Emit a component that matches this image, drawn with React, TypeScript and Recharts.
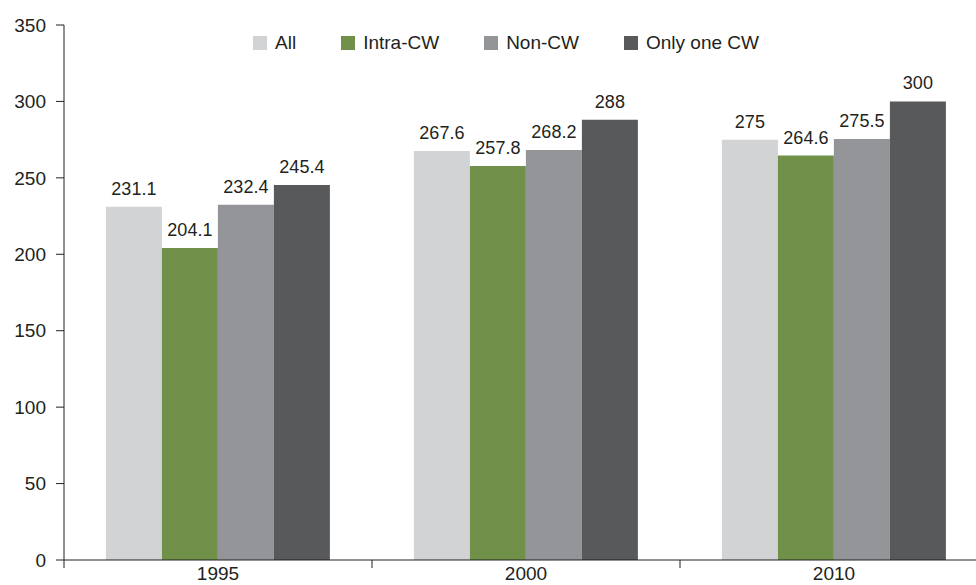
import { Bar, BarChart, LabelList, Legend, XAxis, YAxis } from "recharts";

const years = ["1995", "2000", "2010"];
const allValues = [231.1, 267.6, 275];
const intraCW = [204.1, 257.8, 264.6];
const nonCW = [232.4, 268.2, 275.5];
const onlyOneCW = [245.4, 288, 300];
const yTicks = [0, 50, 100, 150, 200, 250, 300, 350];

const series = [
  { key: "all", name: "All", color: "#d1d3d4" },
  { key: "intra", name: "Intra-CW", color: "#71914a" },
  { key: "non", name: "Non-CW", color: "#939598" },
  { key: "only", name: "Only one CW", color: "#58595b" },
];

const rows = years.map((y, i) => ({
  year: y,
  all: allValues[i],
  intra: intraCW[i],
  non: nonCW[i],
  only: onlyOneCW[i],
}));

const FONT = "'Liberation Sans', Arial, Helvetica, sans-serif";
const INK = "#231f20";

function XTick(props: any) {
  const { x, y, payload } = props;
  const half = payload && typeof payload.offset === "number" ? payload.offset : 154;
  const left = x - half;
  return (
    <g>
      <line x1={left} y1={y} x2={left} y2={y + 8} stroke={INK} strokeWidth={1} />
      <text x={x} y={y + 20} textAnchor="middle" fontSize={19} fill={INK} fontFamily={FONT}>
        {payload.value}
      </text>
    </g>
  );
}

function LegendBox() {
  return (
    <div style={{ display: "flex", alignItems: "center", fontFamily: FONT, fontSize: 19, color: INK }}>
      {series.map((s, i) => (
        <div key={s.key} style={{ display: "flex", alignItems: "center", marginRight: i < series.length - 1 ? 45 : 0 }}>
          <span style={{ display: "inline-block", width: 14, height: 14, background: s.color, marginRight: 8 }} />
          <span style={{ lineHeight: "20px" }}>{s.name}</span>
        </div>
      ))}
    </div>
  );
}

export default function App() {
  return (
    <div style={{ position: "absolute", left: 0, top: 0, width: 976, height: 585, overflow: "hidden", background: "#fff" }}>
      <BarChart
        width={990}
        height={585}
        data={rows}
        margin={{ top: 25, right: 2, bottom: 0, left: 0 }}
        barGap={0}
        barCategoryGap="13.6%"
      >
        <XAxis
          dataKey="year"
          height={25}
          tickLine={false}
          tickSize={0}
          tickMargin={0}
          axisLine={{ stroke: INK }}
          tick={<XTick />}
          interval={0}
        />
        <YAxis
          width={64}
          domain={[0, 350]}
          ticks={yTicks}
          tickSize={8}
          tickMargin={10}
          axisLine={{ stroke: INK }}
          tickLine={{ stroke: INK }}
          tick={{ fontSize: 19, fill: INK, fontFamily: FONT }}
          interval={0}
        />
        <Legend
          layout="horizontal"
          verticalAlign="middle"
          align="center"
          wrapperStyle={{ position: "absolute", left: 253, top: 33, width: "auto" }}
          content={<LegendBox />}
        />
        {series.map((s) => (
          <Bar key={s.key} dataKey={s.key} name={s.name} fill={s.color} isAnimationActive={false}>
            <LabelList dataKey={s.key} position="top" offset={12} fontSize={18} fill={INK} fontFamily={FONT} />
          </Bar>
        ))}
      </BarChart>
    </div>
  );
}
